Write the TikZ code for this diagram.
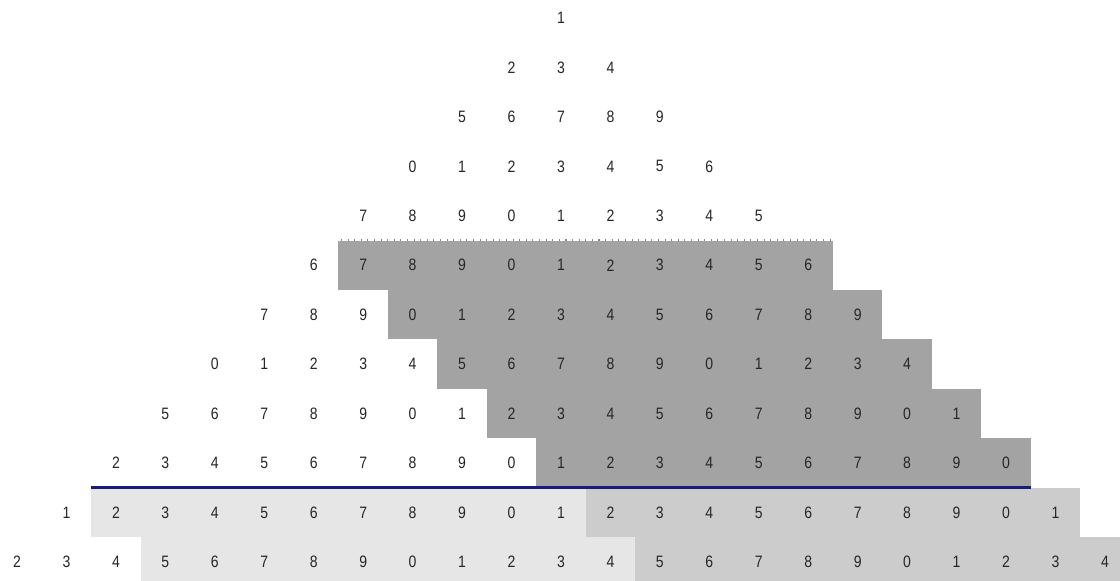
\documentclass[tikz,border=0pt]{standalone}
\usepackage{fontspec}
\newfontfamily\digitfont[FakeStretch=0.85]{Liberation Sans}
\definecolor{pdark}{HTML}{A3A3A3}
\definecolor{plight}{HTML}{E6E6E6}
\definecolor{pmid}{HTML}{CCCCCC}
\definecolor{prule}{HTML}{1A1A7A}
\definecolor{pdigit}{HTML}{262626}
\tikzset{
  digit/.style={inner sep=0pt,font=\digitfont\fontsize{9.5}{9.5}\selectfont,text=pdigit},
  darkband/.style={fill=pdark},
  lightband/.style={fill=plight},
  midband/.style={fill=pmid},
  ruleline/.style={draw=prule,line width=1.8pt},
  teeth/.style={draw=pdark!85!black,line width=1.1pt,dash pattern=on 0.6pt off 3.2pt},
}
\begin{document}
\begin{tikzpicture}[x=1cm,y=-1cm]
  \clip (-0.344,-0.364) rectangle (22.305,11.385);
  % shaded bands
  \foreach \r in {5,...,9}
    \path[darkband] (\r+1.5,\r-0.5) rectangle (\r+11.5,\r+0.5);
  \foreach \r/\s in {10/2,11/3}{
    \path[lightband] (\s-0.5,\r-0.5) rectangle (\s+9.5,\r+0.5);
    \path[midband] (\s+9.5,\r-0.5) rectangle (\s+19.5,\r+0.5);
  }
  \coordinate (teethL) at (6.55,4.49);
  \coordinate (teethR) at (16.5,4.49);
  \draw[teeth] (teethL) -- (teethR);
  % the numbers
  \foreach \r in {0,...,11}{
    \pgfmathtruncatemacro\last{2*\r}
    \foreach \j in {0,...,\last}{
      \pgfmathtruncatemacro\val{mod(\r*\r+\j+1,10)}
      \node[digit] (n-\r-\j) at (11-\r+\j,\r) {\val};
    }
  }
  \coordinate (ruleL) at (1.5,9.5);
  \coordinate (ruleR) at (20.5,9.5);
  \draw[ruleline] (ruleL) -- (ruleR);
\end{tikzpicture}
\end{document}
